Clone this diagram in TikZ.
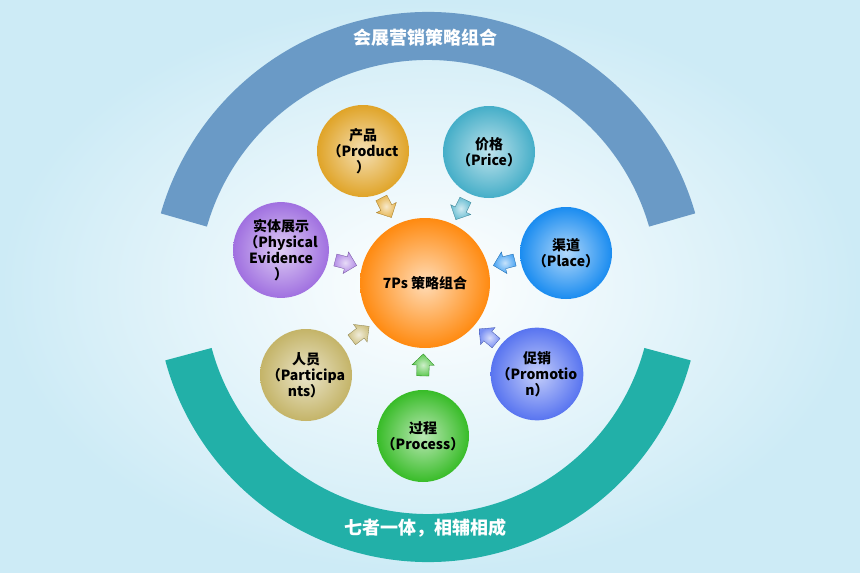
\documentclass[tikz,border=0pt]{standalone}
\usepackage{fontspec}
\setmainfont{Noto Sans CJK SC}
\usetikzlibrary{shapes.arrows,calc}
\definecolor{bgb}{HTML}{CDEBF6}
\definecolor{topband}{HTML}{6A9AC6}
\definecolor{botband}{HTML}{22B0A8}
\definecolor{cOr}{HTML}{FF8A10}
\definecolor{cA}{HTML}{E0A428}
\definecolor{cB}{HTML}{45AEC8}
\definecolor{cC}{HTML}{1A8CF0}
\definecolor{cD}{HTML}{5874F0}
\definecolor{cE}{HTML}{38BC28}
\definecolor{cF}{HTML}{C4B468}
\definecolor{cG}{HTML}{A070E0}
\tikzset{
  ball/.style={circle,minimum size=#1,inner sep=0pt,align=center,font=\bfseries\fontsize{14}{16}\selectfont},
  sat/.style={ball=92pt},
  arr/.style={single arrow,minimum height=22pt,inner xsep=0pt,inner ysep=6pt,single arrow head extend=5pt,draw=#1!70!black,line width=0.3pt,inner color=#1!25!white,outer color=#1!80!white},
  ttl/.style={text=white,font=\bfseries\fontsize{18}{20}\selectfont}
}
\begin{document}
\begin{tikzpicture}[x=1pt,y=-1pt]
\useasboundingbox (0,0) rectangle (860,573);
\fill[inner color=white,outer color=bgb] (0,0) rectangle (860,573);
\begin{scope}[shift={(428,290)},y=1pt]
\fill[topband] (16:278) arc[start angle=16,end angle=164,radius=278] -- (164:230) arc[start angle=164,end angle=16,radius=230] -- cycle;
\fill[botband] (-15:272) arc[start angle=-15,end angle=-165,radius=272] -- (-165:224) arc[start angle=-165,end angle=-15,radius=224] -- cycle;
\end{scope}
\node[ttl] (t1) at (425,38) {会展营销策略组合};
\node[ttl] (t2) at (425,528) {七者一体，相辅相成};
\node[ball=130pt,inner color=cOr!30!white,outer color=cOr] (c) at (425,283) {7Ps 策略组合};
\node[sat,inner color=cA!35!white,outer color=cA] (s1) at (363,151) {产品\\（Product\\）};
\node[sat,inner color=cB!35!white,outer color=cB] (s2) at (489,152) {价格\\（Price）};
\node[sat,inner color=cC!35!white,outer color=cC] (s3) at (566,253) {渠道\\（Place）};
\node[sat,inner color=cD!35!white,outer color=cD] (s4) at (537,374) {促销\\（Promotio\\n）};
\node[sat,inner color=cE!35!white,outer color=cE] (s5) at (423,436) {过程\\（Process）};
\node[sat,inner color=cF!35!white,outer color=cF] (s6) at (306,375) {人员\\（Participa\\nts）};
\node[sat,inner color=cG!35!white,outer color=cG] (s7) at (281,250) {实体展示\\（Physical\\Evidence\\）};
\foreach \nm/\x/\y/\col in {a1/385/205/cA,a2/462/207/cB,a3/507/262/cC,a4/490/338/cD,a5/423/368/cE,a6/358/335/cF,a7/343/262/cG}{
  \coordinate (\nm) at (\x,\y);
  \path let \p1=($(c)-(\nm)$), \n1={atan2(\y1,\x1)} in node[arr=\col,rotate=\n1] at (\nm) {};
}
\end{tikzpicture}
\end{document}
